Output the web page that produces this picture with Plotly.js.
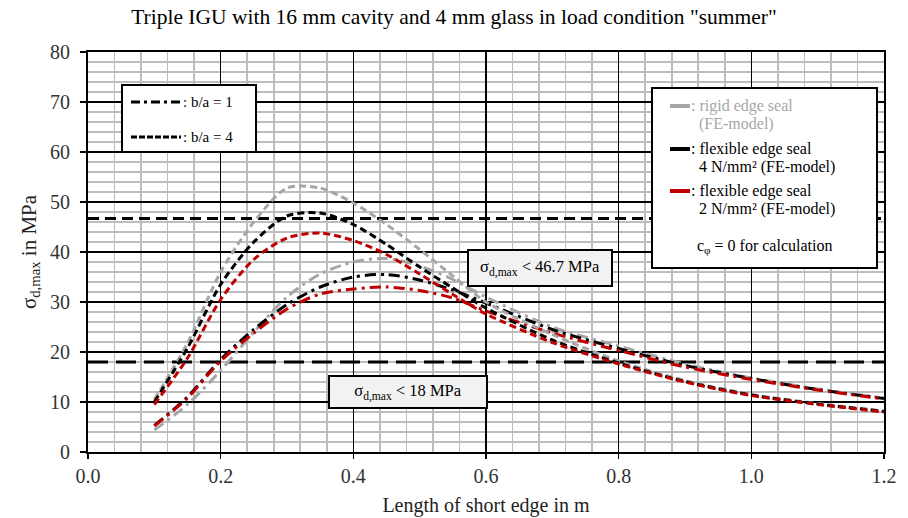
<!DOCTYPE html>
<html>
<head>
<meta charset="utf-8">
<script src="https://cdn.plot.ly/plotly-3.0.1.min.js"></script>
<style>html,body{margin:0;padding:0;background:#fff;}#chart{width:908px;height:518px;}</style>
</head>
<body>
<div id="chart"></div>
<script>
// ---- data ----
var xEdge = [0.1, 0.15, 0.2, 0.25, 0.3, 0.35, 0.4, 0.45, 0.5, 0.55, 0.6, 0.7, 0.8, 0.9, 1.0, 1.1, 1.2];

// b/a = 4 (dashed)
var rigid_ba4   = [10.5, 21.8, 36.0, 46.0, 52.8, 52.8, 49.8, 45.5, 40.5, 35.2, 30.0, 23.5, 18.2, 14.3, 11.5, 9.7, 8.2];
var flex4_ba4   = [10.0, 20.8, 33.5, 42.0, 47.2, 47.8, 45.5, 41.5, 37.0, 32.8, 28.8, 22.4, 17.8, 14.1, 11.4, 9.6, 8.1];
var flex2_ba4   = [9.5, 18.8, 30.5, 38.5, 42.8, 43.8, 42.3, 39.5, 35.6, 31.5, 27.6, 21.9, 17.6, 14.0, 11.3, 9.5, 8.0];

// b/a = 1 (dash-dot)
var rigid_ba1   = [4.4, 9.5, 16.3, 24.0, 31.0, 35.6, 38.0, 38.7, 37.2, 34.5, 31.0, 25.0, 21.2, 17.6, 14.8, 12.6, 10.8];
var flex4_ba1   = [5.3, 11.0, 18.5, 24.5, 29.5, 33.0, 35.0, 35.5, 34.4, 32.4, 29.8, 24.5, 20.7, 17.3, 14.7, 12.5, 10.7];
var flex2_ba1   = [5.2, 10.8, 18.2, 23.8, 28.6, 31.6, 32.6, 33.0, 32.3, 30.8, 28.2, 23.8, 20.3, 17.0, 14.5, 12.4, 10.6];

// limit lines
var limitX = [0.0, 1.2];
var limitHigh = 46.7;
var limitLow = 18;

// tick labels
var xTickVals = [0.0, 0.2, 0.4, 0.6, 0.8, 1.0, 1.2];
var xTickText = ["0.0", "0.2", "0.4", "0.6", "0.8", "1.0", "1.2"];
var yTickVals = [0, 10, 20, 30, 40, 50, 60, 70, 80];

// ---- styles ----
var GRAY = "#a6a6a6", BLACK = "#000000", RED = "#c00000";
var SERIF = "Liberation Serif, Times New Roman, serif";
var DASH = "7px,4px";
var DASHDOT = "11px,5px,3px,5px";

function curve(y, color, dash) {
  return {x: xEdge, y: y, type: "scatter", mode: "lines", showlegend: false, hoverinfo: "skip",
          line: {color: color, width: 3, dash: dash, shape: "spline", smoothing: 0.8}};
}
function limit(v, dash) {
  return {x: limitX, y: [v, v], type: "scatter", mode: "lines", showlegend: false, hoverinfo: "skip",
          line: {color: BLACK, width: 3, dash: dash}};
}

var traces = [
  limit(limitHigh, "11px,6px"),
  limit(limitLow, "20px,8px"),
  curve(rigid_ba1, GRAY, DASHDOT),
  curve(flex4_ba1, BLACK, DASHDOT),
  curve(flex2_ba1, RED, DASHDOT),
  curve(rigid_ba4, GRAY, DASH),
  curve(flex4_ba4, BLACK, DASH),
  curve(flex2_ba4, RED, DASH)
];

// plot area in pixels
var L = 88, R = 884, T = 52, B = 452;
function px(p) { return (p - L) / (R - L); }
function py(p) { return (B - p) / (B - T); }

var shapes = [
  // legend box 1
  {type: "rect", xref: "paper", yref: "paper", x0: px(122), x1: px(256), y0: py(85), y1: py(152),
   line: {color: BLACK, width: 2}, fillcolor: "#ffffff", layer: "above"},
  {type: "line", xref: "paper", yref: "paper", x0: px(131), x1: px(181), y0: py(102), y1: py(102),
   line: {color: BLACK, width: 3, dash: "9px,4px,3px,4px"}, layer: "above"},
  {type: "line", xref: "paper", yref: "paper", x0: px(131), x1: px(181), y0: py(137), y1: py(137),
   line: {color: BLACK, width: 3, dash: "6px,2px"}, layer: "above"},
  // legend box 2
  {type: "rect", xref: "paper", yref: "paper", x0: px(652), x1: px(877), y0: py(88), y1: py(268),
   line: {color: BLACK, width: 2}, fillcolor: "#ffffff", layer: "above"},
  {type: "line", xref: "paper", yref: "paper", x0: px(670), x1: px(690), y0: py(106), y1: py(106),
   line: {color: GRAY, width: 4}, layer: "above"},
  {type: "line", xref: "paper", yref: "paper", x0: px(670), x1: px(690), y0: py(149), y1: py(149),
   line: {color: BLACK, width: 4}, layer: "above"},
  {type: "line", xref: "paper", yref: "paper", x0: px(670), x1: px(690), y0: py(191), y1: py(191),
   line: {color: RED, width: 4}, layer: "above"}
];

function txt(t, x, y, color, anchor, size) {
  return {text: t, xref: "paper", yref: "paper", x: px(x), y: py(y), xanchor: anchor || "left", yanchor: "middle",
          showarrow: false, font: {family: SERIF, size: size || 16, color: color || BLACK}};
}

var annotations = [
  txt(": b/a = 1", 181, 102, BLACK, "left", 15),
  txt(": b/a = 4", 181, 137, BLACK, "left", 15),
  txt(": rigid edge seal", 689, 106, GRAY),
  txt("(FE-model)", 697, 124, GRAY),
  txt(": flexible edge seal", 689, 149),
  txt("4 N/mm² (FE-model)", 697, 167),
  txt(": flexible edge seal", 689, 191),
  txt("2 N/mm² (FE-model)", 697, 209),
  txt("c<sub>φ</sub> = 0 for calculation", 764, 246, BLACK, "center"),
  {text: "σ<sub>d,max</sub> &lt; 46.7 MPa", xref: "paper", yref: "paper", x: px(540), y: py(268),
   xanchor: "center", yanchor: "middle", showarrow: false, width: 140, height: 32,
   bgcolor: "#f2f2f2", bordercolor: BLACK, borderwidth: 2, borderpad: 1,
   font: {family: SERIF, size: 16.5, color: BLACK}},
  {text: "σ<sub>d,max</sub> &lt; 18 MPa", xref: "paper", yref: "paper", x: px(407.5), y: py(392),
   xanchor: "center", yanchor: "middle", showarrow: false, width: 154, height: 28,
   bgcolor: "#f2f2f2", bordercolor: BLACK, borderwidth: 2, borderpad: 1,
   font: {family: SERIF, size: 16.5, color: BLACK}}
];

var layout = {
  width: 908, height: 518,
  margin: {l: L, r: 908 - R, t: T, b: 518 - B, pad: 0},
  paper_bgcolor: "#ffffff", plot_bgcolor: "#ffffff",
  font: {family: SERIF, size: 16, color: "#222"},
  title: {text: 'Triple IGU with 16 mm cavity and 4 mm glass in load condition "summer"',
          x: 0.5, xref: "container", y: 0.968, yref: "container", yanchor: "middle",
          font: {family: SERIF, size: 21.5, color: BLACK}},
  xaxis: {range: [0, 1.2], tickvals: xTickVals, ticktext: xTickText,
          showgrid: true, gridcolor: BLACK, gridwidth: 1.6,
          minor: {dtick: 0.04, tick0: 0, showgrid: true, gridcolor: "#bdbdbd", gridwidth: 1.6},
          showline: true, linecolor: BLACK, linewidth: 2, mirror: true,
          ticks: "outside", ticklen: 5, tickcolor: BLACK, tickwidth: 1.5,
          zeroline: false, tickfont: {family: SERIF, size: 20, color: "#333"},
          title: {text: "Length of short edge in m", font: {family: SERIF, size: 20, color: "#222"}, standoff: 12}},
  yaxis: {range: [0, 80], tickvals: yTickVals,
          showgrid: true, gridcolor: BLACK, gridwidth: 1.6,
          minor: {dtick: 2, tick0: 0, showgrid: true, gridcolor: "#bdbdbd", gridwidth: 1.6},
          showline: true, linecolor: BLACK, linewidth: 2, mirror: true,
          ticks: "outside", ticklen: 6, tickcolor: BLACK, tickwidth: 1.5,
          ticklabelstandoff: 6,
          zeroline: false, tickfont: {family: SERIF, size: 20, color: "#333"},
          title: {text: "σ<sub>d,max</sub> in MPa", font: {family: SERIF, size: 21, color: "#222"}, standoff: 8}},
  shapes: shapes,
  annotations: annotations
};

Plotly.newPlot("chart", traces, layout, {displayModeBar: false, staticPlot: true});
</script>
</body>
</html>
